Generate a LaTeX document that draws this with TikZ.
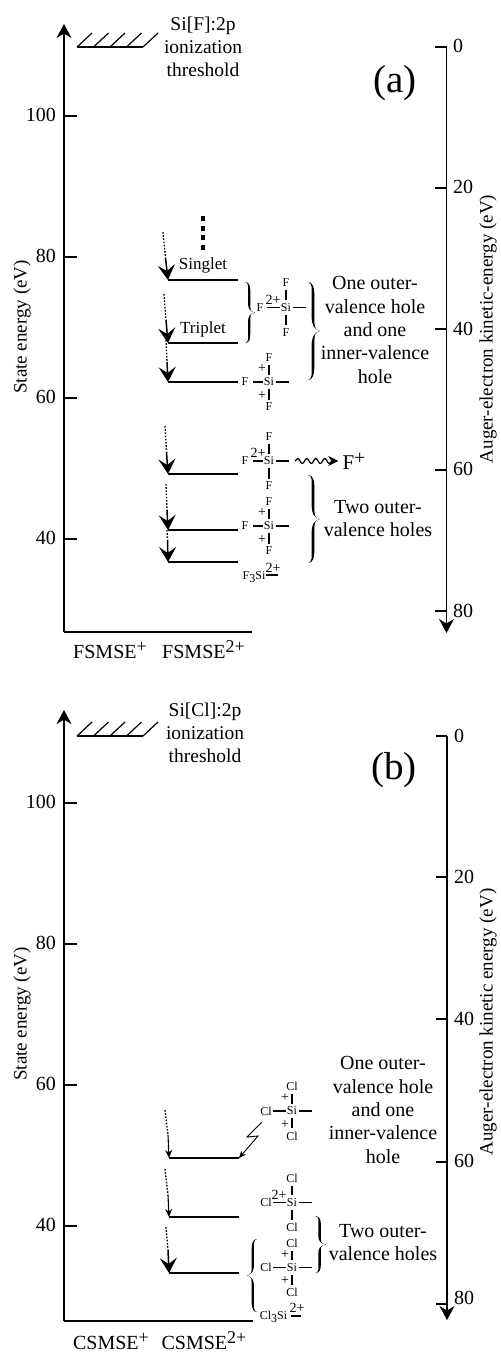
\documentclass[tikz,border=0pt]{standalone}
\usepackage{fontspec}
\setmainfont{Liberation Serif}
\usetikzlibrary{arrows.meta,decorations.pathmorphing}
\newcommand{\fsz}[1]{\fontsize{#1}{#1}\selectfont}
\tikzset{
  axis/.style={line width=1.4pt,-{Stealth[length=14pt,width=15pt,inset=4.5pt]}},
  rule/.style={line width=1.4pt},
  tick/.style={line width=1.2pt},
  level/.style={line width=1.4pt},
  ticklab/.style={font=\fsz{20},inner sep=0pt,anchor=east},
  rticklab/.style={font=\fsz{20},inner sep=0pt,anchor=west},
  axlab/.style={font=\fsz{19},inner sep=0pt,rotate=90},
  txt/.style={font=\fontsize{20}{23.4}\selectfont,align=center,inner sep=0pt},
  thr/.style={font=\fontsize{19.5}{22.7}\selectfont,align=center,inner sep=0pt},
  small/.style={font=\fsz{17},inner sep=0pt},
  atom/.style={font=\fsz{12},inner sep=0pt},
  charge/.style={font=\fsz{14},inner sep=0pt},
  bond/.style={line width=1.3pt,shorten >=#1,shorten <=#1},
  bond/.default=3pt,
  dots/.style={line width=1.3pt,dash pattern=on 1.6pt off 1.6pt},
  bighead/.style={line width=1.5pt,-{Stealth[length=15pt,width=17pt,inset=6pt]}},
  thinhead/.style={line width=1.1pt,-{Stealth[length=8pt,width=7pt,inset=2.5pt]}},
  hatch/.style={line width=1.2pt},
  bracefill/.style={fill=black,draw=none},
  axname/.style={font=\fsz{20},inner sep=0pt,anchor=base},
}
% x, y0, y1, w (w<0 points left)
\newcommand{\brc}[4]{%
  \pgfmathsetmacro{\ba}{#1+.42*(#4)}%
  \pgfmathsetmacro{\bt}{.115*(#4)}%
  \pgfmathsetmacro{\bh}{(#3-#2)/2}%
  \pgfmathsetmacro{\bm}{(#3+#2)/2}%
  \pgfmathsetmacro{\btip}{#1+(#4)}%
  \fill[bracefill]
    (#1,#2)
    .. controls (\ba,#2) and (\ba+\bt,#2+.12*\bh) .. (\ba+\bt,#2+.32*\bh)
    -- (\ba+\bt,\bm-.3*\bh)
    .. controls (\ba+\bt,\bm-.1*\bh) and (\ba+.6*\bt,\bm-.03*\bh) .. (\btip,\bm)
    .. controls (\ba+.6*\bt,\bm+.03*\bh) and (\ba+\bt,\bm+.1*\bh) .. (\ba+\bt,\bm+.3*\bh)
    -- (\ba+\bt,#3-.32*\bh)
    .. controls (\ba+\bt,#3-.12*\bh) and (\ba,#3) .. (#1,#3)
    .. controls (\ba-.4*\bt,#3-.03*\bh) and (\ba-\bt,#3-.12*\bh) .. (\ba-\bt,#3-.32*\bh)
    -- (\ba-\bt,\bm+.3*\bh)
    .. controls (\ba-\bt,\bm+.14*\bh) and (\ba+.3*\bt,\bm+.04*\bh) .. (\btip,\bm)
    .. controls (\ba+.3*\bt,\bm-.04*\bh) and (\ba-\bt,\bm-.14*\bh) .. (\ba-\bt,\bm-.3*\bh)
    -- (\ba-\bt,#2+.32*\bh)
    .. controls (\ba-\bt,#2+.12*\bh) and (\ba-.4*\bt,#2+.03*\bh) .. (#1,#2)
    -- cycle;
}
% name, atom, x, y, left offset, shorten of left bond at outer atom
\newcommand{\mol}[6]{%
  \node[atom] (#1si) at (#3,#4) {Si};
  \node[atom] (#1t) at (#3,#4-24.5) {#2};
  \node[atom] (#1b) at (#3,#4+25) {#2};
  \node[atom] (#1l) at (#3-#5,#4) {#2};
  \coordinate (#1r) at (#3+20,#4);
  \draw[bond=3.2pt] (#1si) -- (#1t);
  \draw[bond=3.2pt] (#1si) -- (#1b);
  \draw[line width=1.3pt,shorten <=1pt,shorten >=#6] (#1si) -- (#1l);
  \draw[line width=1.3pt,shorten <=1.5pt] (#1si) -- (#1r);
}
\newcommand{\plusplus}[3]{%
  \node[charge] (#1pa) at (#2-7,#3-13) {+};
  \node[charge] (#1pb) at (#2-7,#3+13.5) {+};
}
\newcommand{\trans}[8]{% name, x0 y0 x1 y1 x2 y2 head
  \coordinate (#1s) at (#2,#3);
  \coordinate (#1m) at (#4,#5);
  \coordinate (#1e) at (#6,#7);
  \draw[dots] (#1s) -- (#1m);
  \draw[#8] (#1m) -- (#1e);
}
\newcommand{\thresh}[3]{% name, x, y
  \coordinate (#1a) at (#2,#3);
  \coordinate (#1b) at (#2+66,#3);
  \draw[line width=1.4pt] (#1a) -- (#1b);
  \foreach \k in {0,16.5,33,49.5,66} {
    \coordinate (#1h) at (#2+\k+15,#3-14);
    \coordinate (#1g) at (#2+\k,#3);
    \draw[hatch] (#1g) -- (#1h);
  }
}
\begin{document}
\begin{tikzpicture}[x=1pt,y=-1pt]
\useasboundingbox (0,0) rectangle (501,1353);
%%% PANEL A
\coordinate (ao) at (64,632);
\coordinate (at) at (64,24);
\coordinate (ae) at (252,632);
\draw[axis] (ao) -- (at);
\draw[rule] (ao) -- (ae);
\foreach \v/\y in {100/116,80/257,60/398,40/539} {
  \coordinate (al\v) at (64,\y);
  \coordinate (am\v) at (77,\y);
  \draw[tick] (al\v) -- (am\v);
  \node[ticklab] (alab\v) at (56,\y-1) {\v};
}
\node[axlab] (aylab) at (22,327) {State energy (eV)};
\thresh{ath}{77}{47}
\node[thr] (athl) at (203,47) {Si[F]:2p\\ionization\\threshold};
\node[font=\fsz{39},inner sep=0pt] (atag) at (395,83) {(a)};
\coordinate (ar0) at (446.5,47);
\coordinate (ar1) at (446.5,633);
\draw[axis] (ar0) -- (ar1);
\foreach \v/\y in {0/47,20/188,40/329,60/470,80/611} {
  \coordinate (arl\v) at (435,\y);
  \coordinate (arm\v) at (446.5,\y);
  \draw[tick] (arl\v) -- (arm\v);
}
\foreach \v/\y in {0/46,20/187,40/329,60/469,80/611} {
  \node[rticklab] (arlab\v) at (453,\y) {\v};
}
\node[axlab] (arylab) at (488,329) {Auger-electron kinetic-energy (eV)};
% levels
\foreach \n/\y in {a/280,b/343,c/382,d/474,e/530,f/562} {
  \coordinate (lv\n l) at (168,\y);
  \coordinate (lv\n r) at (238,\y);
  \draw[level] (lv\n l) -- (lv\n r);
}
\trans{t1}{163}{232}{165.5}{258}{168}{280}{bighead}
\trans{t2}{164}{294}{166}{320}{168}{343}{bighead}
\trans{t3}{166}{340}{167}{362}{168}{382}{bighead}
\trans{t4}{165}{426}{166.5}{452}{168}{474}{bighead}
\trans{t5}{166}{484}{167}{510}{168}{530}{bighead}
\trans{t6}{167}{530}{167.5}{540}{168}{562}{bighead}
\coordinate (dd1) at (203,216);
\coordinate (dd2) at (203,250);
\draw[line width=4pt,dash pattern=on 5pt off 4.67pt] (dd1) -- (dd2);
\node[small] (sing) at (203,265) {Singlet};
\node[small] (trip) at (203,329) {Triplet};
% molecules
\mol{ma}{F}{286}{307.5}{26}{3pt}
\node[charge] (mac) at (273,299.5) {2+};
\mol{mb}{F}{269}{382}{24}{4.5pt}
\plusplus{mb}{269}{382}
\mol{mc}{F}{269}{461}{24}{4.5pt}
\node[charge] (mcc) at (258,453) {2+};
\mol{md}{F}{269}{526}{24}{4.5pt}
\plusplus{md}{269}{526}
\node[atom] (fsi) at (254,577) {F\raisebox{-2.5pt}{3}Si};
\node[charge] (fsic) at (273,568) {2+};
\coordinate (fsia) at (266,575);
\coordinate (fsib) at (278,575);
\draw[line width=1.3pt] (fsia) -- (fsib);
% F+ wavy
\coordinate (wa) at (295,461);
\node[font=\fsz{21},inner sep=0pt] (fp) at (354,461) {F\raisebox{5pt}{\fsz{20}+}};
\draw[line width=1.2pt,shorten >=4pt,decorate,decoration={snake,amplitude=2.5pt,segment length=9pt,post length=7pt},-{Stealth[length=10pt,width=10pt,inset=3pt]}] (wa) -- (fp.west);
% braces
\brc{245}{282}{343}{10}
\brc{308}{282}{380}{12}
\brc{308}{475}{563}{12}
\node[txt] (aone) at (375,330) {One outer-\\valence hole\\and one\\inner-valence\\hole};
\node[txt] (atwo) at (378,518.5) {Two outer-\\valence holes};
\node[axname] (ax1) at (110,658.5) {FSMSE\raisebox{6pt}{\fsz{18}+}};
\node[axname] (ax2) at (203.5,658.5) {FSMSE\raisebox{6pt}{\fsz{18}2+}};
%%% PANEL B
\coordinate (bo) at (64,1321);
\coordinate (bt) at (64,710);
\coordinate (be) at (253,1321);
\draw[axis] (bo) -- (bt);
\draw[rule] (bo) -- (be);
\foreach \v/\y in {100/803,80/944,60/1085,40/1226} {
  \coordinate (bl\v) at (64,\y);
  \coordinate (bm\v) at (77,\y);
  \draw[tick] (bl\v) -- (bm\v);
  \node[ticklab] (blab\v) at (56,\y-1) {\v};
}
\node[axlab] (bylab) at (22,1014) {State energy (eV)};
\thresh{bth}{77}{736}
\node[thr] (bthl) at (205,733) {Si[Cl]:2p\\ionization\\threshold};
\node[font=\fsz{39},inner sep=0pt] (btag) at (394,770) {(b)};
\coordinate (br0) at (447,736);
\coordinate (br9) at (447,1320);
\draw[axis] (br0) -- (br9);
\foreach \v/\y in {0/736,20/877,40/1019,60/1162,80/1304} {
  \coordinate (brl\v) at (436,\y);
  \coordinate (brm\v) at (447,\y);
  \draw[tick] (brl\v) -- (brm\v);
}
\foreach \v/\y in {0/736,20/877,40/1019,60/1161,80/1298} {
  \node[rticklab] (brlab\v) at (454,\y) {\v};
}
\node[axlab] (brylab) at (488,1022) {Auger-electron kinetic energy (eV)};
\foreach \n/\y in {g/1158,h/1217,i/1273} {
  \coordinate (lv\n l) at (169,\y);
  \coordinate (lv\n r) at (239,\y);
  \draw[level] (lv\n l) -- (lv\n r);
}
\trans{t7}{165}{1110}{168}{1135}{169}{1158}{thinhead}
\trans{t8}{165}{1169}{168}{1195}{169}{1217}{thinhead}
\trans{t9}{166}{1227}{168}{1250}{169}{1273}{bighead}
\mol{mg}{Cl}{292}{1111}{26}{1.5pt}
\plusplus{mg}{292}{1111}
\mol{mh}{Cl}{292}{1202.5}{26}{1.5pt}
\node[charge] (mhc) at (279,1195) {2+};
\mol{mi}{Cl}{292}{1267.5}{26}{1.5pt}
\plusplus{mi}{292}{1267.5}
\node[atom] (clsi) at (273.5,1317) {Cl\raisebox{-2.5pt}{3}Si};
\node[charge] (clsic) at (297,1308) {2+};
\coordinate (clsia) at (291,1316);
\coordinate (clsib) at (301,1316);
\draw[line width=1.3pt] (clsia) -- (clsib);
% lightning
\coordinate (la) at (262,1122);
\coordinate (lb) at (247,1137);
\coordinate (lc) at (258,1136);
\draw[line width=.9pt,-{Stealth[length=7pt,width=6pt,inset=2pt]}] (la) -- (lb) -- (lc) -- (lvgr);
% braces
\brc{257}{1239}{1312}{-10}
\brc{315}{1216}{1273}{11}
\node[txt] (bone) at (383,1110) {One outer-\\valence hole\\and one\\inner-valence\\hole};
\node[txt] (btwo) at (383,1242.5) {Two outer-\\valence holes};
\node[axname] (bx1) at (111,1349) {CSMSE\raisebox{6pt}{\fsz{18}+}};
\node[axname] (bx2) at (204,1349) {CSMSE\raisebox{6pt}{\fsz{18}2+}};
\end{tikzpicture}
\end{document}
